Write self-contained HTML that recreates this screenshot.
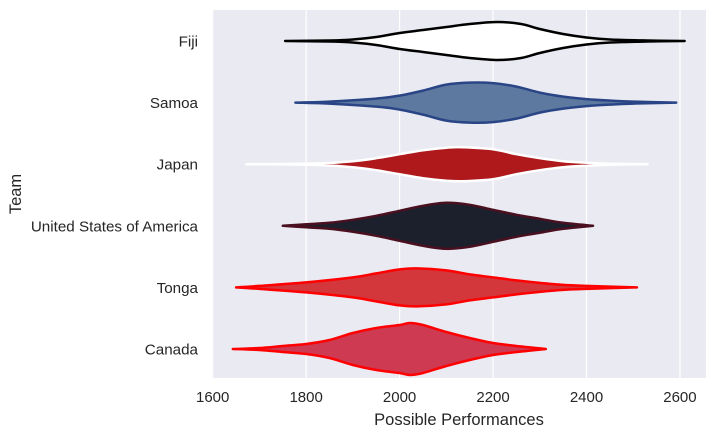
<!DOCTYPE html>
<html><head><meta charset="utf-8"><style>
body{margin:0;background:#fff;}
svg{display:block;font-family:"Liberation Sans",sans-serif;}
</style></head><body>
<svg id="chart" width="717" height="437">
<rect x="212" y="10" width="494" height="368" fill="#eaeaf2"/>
<g id="grid"></g>
<g id="violins"></g>
<g id="xticks"></g>
<g id="yticks"></g>
<text x="459" y="425" text-anchor="middle" font-size="16.5" fill="#262626">Possible Performances</text>
<text transform="translate(21,194) rotate(-90)" text-anchor="middle" font-size="16.5" fill="#262626">Team</text>
</svg>
<script>
const teams = ["Fiji","Samoa","Japan","United States of America","Tonga","Canada"];
const xTicks = [1600,1800,2000,2200,2400,2600];
const fiji = [[1755,0],[1850,0.5],[1900,1.5],[1950,4],[2000,8],[2050,11],[2100,14],[2150,17],[2210,19],[2260,17],[2300,12],[2350,7],[2400,3.5],[2450,1.5],[2530,0.5],[2610,0]];
const samoa = [[1777,0],[1850,1],[1950,4],[2000,7],[2050,12],[2100,18],[2150,20],[2200,19.5],[2250,16],[2300,10],[2350,6],[2400,3.5],[2450,2],[2500,1],[2592,0]];
const japan = [[1672,0],[1750,0.2],[1830,0.8],[1900,3],[1950,6],[2000,10],[2050,14],[2100,16.5],[2135,17],[2200,15],[2250,10],[2300,6],[2350,3],[2400,1.5],[2450,0.5],[2531,0]];
const usa = [[1750,0],[1800,1.5],[1850,3],[1900,6],[1950,10],[2000,15],[2050,20],[2100,23],[2150,21],[2200,16],[2250,11],[2300,7],[2350,3],[2414,0]];
const tonga = [[1650,0],[1700,1.5],[1800,5],[1900,10],[1950,14],[2000,18],[2037,19],[2100,17],[2150,13],[2200,10],[2250,7],[2300,4.5],[2350,2.5],[2400,1.5],[2508,0]];
const canada = [[1643,0],[1700,1],[1750,3],[1800,5],[1850,9],[1900,16],[1950,21],[2000,24],[2022,26],[2050,24],[2100,17],[2150,11],[2200,6],[2250,3],[2313,0]];
const series = [fiji,samoa,japan,usa,tonga,canada];
const fills = ["#ffffff","#5d79a0","#b0191b","#1c1f2c","#d3363b","#cd3a52"];
const strokes = ["#000000","#2a4585","#ffffff","#4a1020","#ff0000","#ff0000"];
const NS="http://www.w3.org/2000/svg";
function xs(v){return 212.7+(v-1600)*(93.45/200);}
function ys(i){return 41+i*61.6;}
function cr(pts){
  let d="M"+pts[0][0]+","+pts[0][1];
  for(let i=0;i<pts.length-1;i++){
    const p0=pts[Math.max(0,i-1)],p1=pts[i],p2=pts[i+1],p3=pts[Math.min(pts.length-1,i+2)];
    const c1x=p1[0]+(p2[0]-p0[0])/6,c1y=p1[1]+(p2[1]-p0[1])/6;
    const c2x=p2[0]-(p3[0]-p1[0])/6,c2y=p2[1]-(p3[1]-p1[1])/6;
    d+=" C"+c1x.toFixed(2)+","+c1y.toFixed(2)+" "+c2x.toFixed(2)+","+c2y.toFixed(2)+" "+p2[0].toFixed(2)+","+p2[1].toFixed(2);
  }
  return d;
}
const grid=document.getElementById("grid");
const xt=document.getElementById("xticks");
xTicks.forEach(t=>{
  const l=document.createElementNS(NS,"line");
  
  
  l.setAttribute("x1",xs(t));l.setAttribute("x2",xs(t));l.setAttribute("y1",10);l.setAttribute("y2",378);
  l.setAttribute("stroke","#fff");l.setAttribute("stroke-width","1.2");
  grid.appendChild(l);
  const tx=document.createElementNS(NS,"text");
  
  
  tx.setAttribute("x",xs(t));tx.setAttribute("y",402);tx.setAttribute("text-anchor","middle");
  tx.setAttribute("font-size","15");tx.setAttribute("fill","#262626");tx.textContent=t;
  xt.appendChild(tx);
});
const yt=document.getElementById("yticks");
teams.forEach((n,i)=>{
  const tx=document.createElementNS(NS,"text");
  
  
  tx.setAttribute("x",198);tx.setAttribute("y",ys(i)+5.5);tx.setAttribute("text-anchor","end");
  tx.setAttribute("font-size","15.2");tx.setAttribute("fill","#262626");tx.textContent=n;
  yt.appendChild(tx);
});
const vg=document.getElementById("violins");
series.forEach((s,i)=>{
  const cy=ys(i);
  const top=s.map(p=>[xs(p[0]),cy-p[1]]);
  const bot=s.slice().reverse().map(p=>[xs(p[0]),cy+p[1]]);
  let d=cr(top)+" L"+bot[0][0]+","+bot[0][1]+cr(bot).replace(/^M[^C]*/," ")+" Z";
  const p=document.createElementNS(NS,"path");
  
  
  p.setAttribute("d",d);p.setAttribute("fill",fills[i]);p.setAttribute("stroke",strokes[i]);
  p.setAttribute("stroke-width","2.5");p.setAttribute("stroke-linejoin","round");p.setAttribute("stroke-linecap","round");
  vg.appendChild(p);
});
</script>
</body></html>
